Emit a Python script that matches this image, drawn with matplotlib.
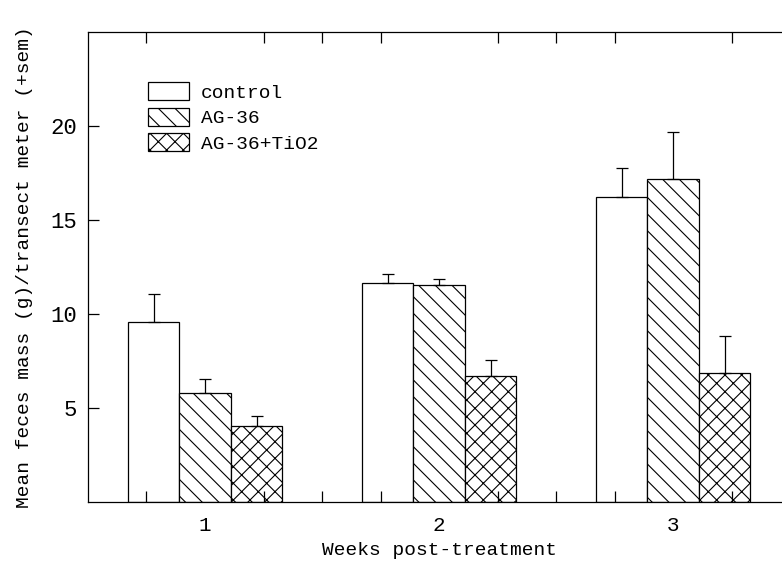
import numpy as np
import matplotlib
matplotlib.use("Agg")
import matplotlib.pyplot as plt

# data
weeks = [1, 2, 3]
groups = ["control", "AG-36", "AG-36+TiO2"]
control = [9.55, 11.65, 16.2]
ag36 = [5.8, 11.55, 17.2]
ag36_tio2 = [4.05, 6.7, 6.85]
control_sem = [1.5, 0.45, 1.55]
ag36_sem = [0.75, 0.3, 2.5]
ag36_tio2_sem = [0.55, 0.85, 2.0]

plt.rcParams['font.family'] = ['Liberation Mono', 'DejaVu Sans']
plt.rcParams['hatch.linewidth'] = 0.8

fig = plt.figure(figsize=(7.82, 5.65), dpi=100)
ax = fig.add_axes([0.1125, 0.1115, 0.898, 0.832])

w = 0.22
x = np.array(weeks)
series = [(control, control_sem, ''), (ag36, ag36_sem, '\\\\'), (ag36_tio2, ag36_tio2_sem, 'xx')]
for i, (vals, sem, hatch) in enumerate(series):
    ax.bar(x + (i - 1) * w, vals, w, color='white', edgecolor='black',
           linewidth=0.9, hatch=hatch, label=groups[i])
    ax.errorbar(x + (i - 1) * w, vals, yerr=[np.zeros(3), sem], fmt='none',
                ecolor='black', elinewidth=0.9, capsize=4, capthick=0.9)

ax.set_xlim(0.5, 3.5)
ax.set_ylim(0, 25)
ax.set_yticks([5, 10, 15, 20])
ax.set_xticks(weeks)
ax.set_xticks(np.arange(0.75, 3.3, 0.25), minor=True)
ax.tick_params(axis='both', which='both', direction='in', top=True, right=False,
               labelsize=16, width=0.9)
ax.tick_params(axis='x', which='major', length=0, pad=10, labelsize=15)
ax.tick_params(axis='x', which='minor', length=8)
ax.tick_params(axis='y', which='major', length=8, pad=8)
for s in ax.spines.values():
    s.set_linewidth(0.9)

ax.set_xlabel('Weeks post-treatment', fontsize=14, labelpad=5)
ax.set_ylabel('Mean feces mass (g)/transect meter (+sem)', fontsize=14, labelpad=12)

ax.legend(loc='upper left', bbox_to_anchor=(0.06, 0.93), frameon=False,
          fontsize=14, handlelength=2.15, handleheight=1.05, labelspacing=0.3,
          handletextpad=0.6)

fig.savefig('out.png', dpi=100)
